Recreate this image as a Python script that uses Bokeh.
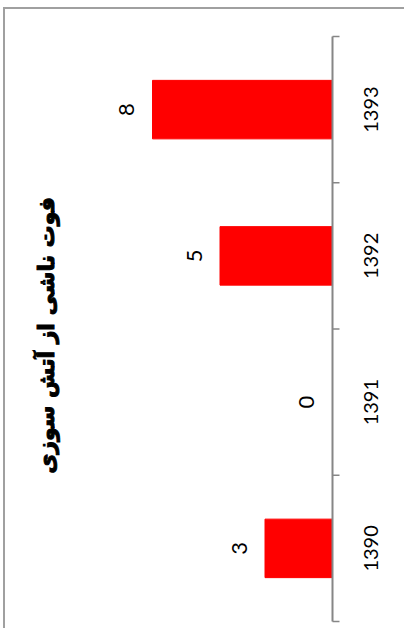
import math
from bokeh.plotting import figure
from bokeh.models import Range1d, ColumnDataSource, Label
from bokeh.core.properties import value
from bokeh.embed import file_html
from bokeh.resources import INLINE

# ---- data ----
years = ["1390", "1391", "1392", "1393"]
deaths = [3, 0, 5, 8]
title_text = "فوت ناشی از آتش سوزی"

n = len(years)
ypos = list(range(n))
bounds = [i - 0.5 for i in range(n + 1)]
src = ColumnDataSource(dict(y=ypos, v=deaths, lab=[str(d) for d in deaths], yr=years))

W, H = 401, 621
PX_PER_UNIT = 22.5          # horizontal scale (pixels per death)
AXIS_PX = 327               # distance of the value-0 line from the left edge
x_start = AXIS_PX / PX_PER_UNIT
x_end = -(W - AXIS_PX) / PX_PER_UNIT
tick_len = 7 / PX_PER_UNIT

p = figure(width=W, height=H, output_backend="svg", toolbar_location=None,
           x_axis_location=None, y_axis_location=None,
           x_range=Range1d(start=x_start, end=x_end),
           y_range=Range1d(start=-0.5615, end=3.6846),
           min_border=0)
p.outline_line_color = None
p.grid.visible = False
p.background_fill_color = "white"
p.border_fill_color = "white"
p.styles = {"margin-left": "3px", "margin-top": "7px",
            "border-top": "2px solid #a0a0a0",
            "border-left": "2px solid #a0a0a0"}

p.hbar(y="y", left=0, right="v", height=0.4, color="#FF0000", source=src)

# data labels
p.text(x="v", y="y", text="lab", source=src, angle=math.pi / 2,
       x_offset=-26, text_align="center", text_baseline="middle",
       text_font=value("Lato"), text_font_size="22px", text_color="black")

# category axis line and tick marks between categories
p.segment(x0=[0], y0=[bounds[0]], x1=[0], y1=[bounds[-1]],
          line_color="#868686", line_width=2)
p.segment(x0=[0] * len(bounds), y0=bounds, x1=[-tick_len] * len(bounds), y1=bounds,
          line_color="#868686", line_width=1.5)

# category labels
p.text(x=0, y="y", text="yr", source=src, angle=math.pi / 2,
       x_offset=38, text_align="center", text_baseline="middle",
       text_font=value("Lato"), text_font_size="20px", text_color="black")

p.add_layout(Label(x=12.71, y=1.456, text=title_text, angle=math.pi / 2,
                   text_align="center", text_baseline="middle",
                   text_font="DejaVu Sans", text_font_style="bold",
                   text_font_size="22px", text_color="black",
                   text_outline_color="black"))

open("out.html", "w").write(file_html(p, INLINE))
